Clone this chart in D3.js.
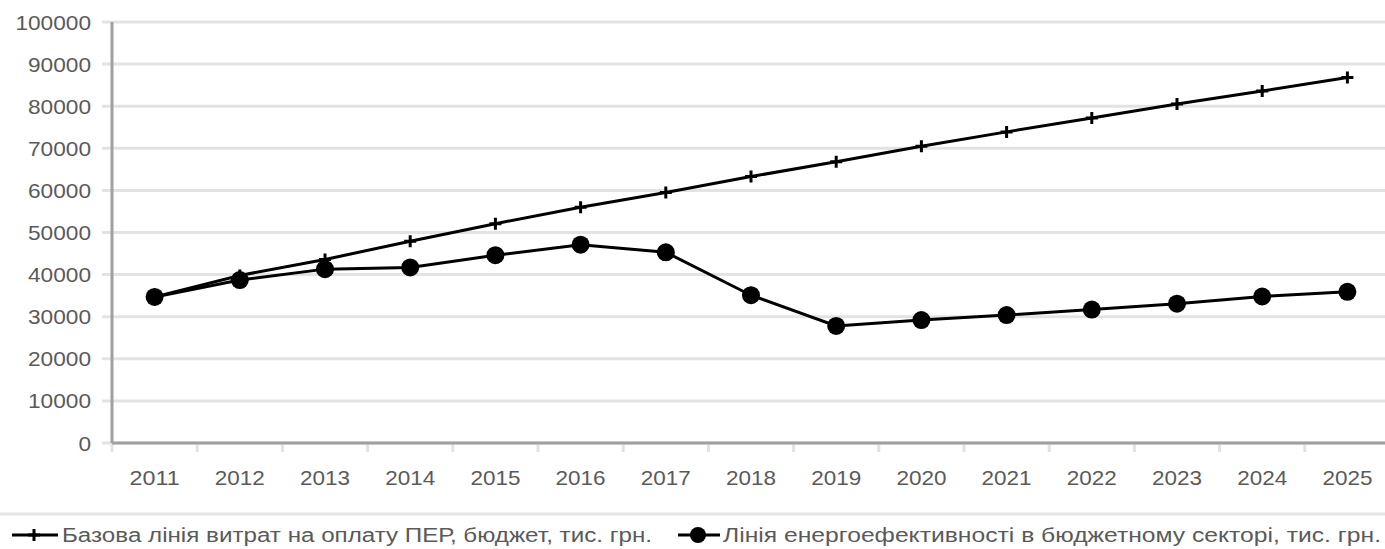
<!DOCTYPE html>
<meta charset="utf-8">
<style>
body { margin: 0; background: #fff; }
text { font-family: "Liberation Sans", Arial, sans-serif; fill: #5a5a5a; }
.grid line { stroke: #e3e3e3; stroke-width: 3px; }
.series { fill: none; stroke: #000; stroke-width: 3px; }
</style>
<body>
<script src="https://cdn.jsdelivr.net/npm/d3@7"></script>
<script>
// data
var years = ["2011","2012","2013","2014","2015","2016","2017","2018","2019","2020","2021","2022","2023","2024","2025"];
var baseLine = [34700, 39800, 43600, 47900, 52100, 56000, 59500, 63300, 66800, 70500, 73900, 77200, 80500, 83600, 86800];
var effLine = [34700, 38700, 41300, 41700, 44600, 47100, 45300, 35100, 27800, 29200, 30400, 31700, 33100, 34800, 35900];
var yTicks = [0, 10000, 20000, 30000, 40000, 50000, 60000, 70000, 80000, 90000, 100000];
var legendLabels = ["Базова лінія витрат на оплату ПЕР, бюджет, тис. грн.",
                    "Лінія енергоефективності в бюджетному секторі, тис. грн."];

var W = 1385, H = 549;
// the plot runs a few pixels past the right edge in the original
var margin = {top: 22, right: -5, bottom: 106, left: 112},
    width = W - margin.left - margin.right,
    height = H - margin.top - margin.bottom;

var svg = d3.select("body").append("svg")
    .attr("width", W)
    .attr("height", H);

var g = svg.append("g")
    .attr("transform", "translate(" + margin.left + "," + margin.top + ")");

var x = d3.scaleBand().domain(years).range([0, width]);
var y = d3.scaleLinear().domain([0, 100000]).range([height, 0]);

// gridlines + y labels
var grid = g.append("g").attr("class", "grid");
grid.selectAll("line").data(yTicks).enter().append("line")
    .attr("x1", -10).attr("x2", width)
    .attr("y1", function(d) { return y(d); })
    .attr("y2", function(d) { return y(d); });

g.append("g").selectAll("text").data(yTicks).enter().append("text")
    .attr("x", -21)
    .attr("y", function(d) { return y(d); })
    .attr("dy", "0.36em")
    .attr("text-anchor", "end")
    .attr("textLength", function(d) { return String(d).length * 12.6; })
    .attr("lengthAdjust", "spacingAndGlyphs")
    .style("font-size", "21px")
    .text(function(d) { return d; });

// x axis ticks between categories
var bounds = years.map(function(d) { return x(d); }).concat([width]);
g.append("g").selectAll("line").data(bounds).enter().append("line")
    .attr("x1", function(d) { return d; }).attr("x2", function(d) { return d; })
    .attr("y1", height).attr("y2", height + 9)
    .attr("stroke", "#e3e3e3").attr("stroke-width", 3);

g.append("g").selectAll("text").data(years).enter().append("text")
    .attr("x", function(d) { return x(d) + x.bandwidth() / 2; })
    .attr("y", height + 42)
    .attr("text-anchor", "middle")
    .attr("textLength", 50)
    .attr("lengthAdjust", "spacingAndGlyphs")
    .style("font-size", "21px")
    .text(function(d) { return d; });

// axis lines
g.append("line").attr("x1", 0).attr("x2", 0).attr("y1", 0).attr("y2", height)
    .attr("stroke", "#a0a0a0").attr("stroke-width", 3);
g.append("line").attr("x1", 0).attr("x2", width).attr("y1", height).attr("y2", height)
    .attr("stroke", "#a0a0a0").attr("stroke-width", 3);

var line = d3.line()
    .x(function(d, i) { return x(years[i]) + x.bandwidth() / 2; })
    .y(function(d) { return y(d); });

g.append("path").datum(baseLine).attr("class", "series").attr("d", line);
g.append("path").datum(effLine).attr("class", "series").attr("d", line);

function plus(sel, s) {
  sel.append("path")
    .attr("d", "M" + (-s) + ",0H" + s + "M0," + (-s) + "V" + s)
    .attr("stroke", "#000").attr("stroke-width", 3);
}

g.append("g").selectAll("g").data(baseLine).enter().append("g")
    .attr("transform", function(d, i) { return "translate(" + (x(years[i]) + x.bandwidth() / 2) + "," + y(d) + ")"; })
    .each(function() { plus(d3.select(this), 6); });

g.append("g").selectAll("circle").data(effLine).enter().append("circle")
    .attr("cx", function(d, i) { return x(years[i]) + x.bandwidth() / 2; })
    .attr("cy", function(d) { return y(d); })
    .attr("r", 9)
    .attr("fill", "#000");

// separator above legend
svg.append("line").attr("x1", 0).attr("x2", W).attr("y1", 514).attr("y2", 514)
    .attr("stroke", "#e6e6e6").attr("stroke-width", 3);

// legend
var leg = svg.append("g").attr("transform", "translate(0,535)");
var l1 = leg.append("g").attr("transform", "translate(12,0)");
l1.append("line").attr("x1", 0).attr("x2", 46).attr("stroke", "#000").attr("stroke-width", 3);
l1.append("g").attr("transform", "translate(22,0)").call(function(s) { plus(s, 6); });
l1.append("text").attr("x", 50).attr("dy", "0.36em")
    .attr("textLength", 590).attr("lengthAdjust", "spacingAndGlyphs")
    .style("font-size", "20px").text(legendLabels[0]);

var l2 = leg.append("g").attr("transform", "translate(678,0)");
l2.append("line").attr("x1", 0).attr("x2", 42).attr("stroke", "#000").attr("stroke-width", 3);
l2.append("circle").attr("cx", 20).attr("r", 8).attr("fill", "#000");
l2.append("text").attr("x", 45).attr("dy", "0.36em")
    .attr("textLength", 658).attr("lengthAdjust", "spacingAndGlyphs")
    .style("font-size", "20px").text(legendLabels[1]);
</script>
</body>
